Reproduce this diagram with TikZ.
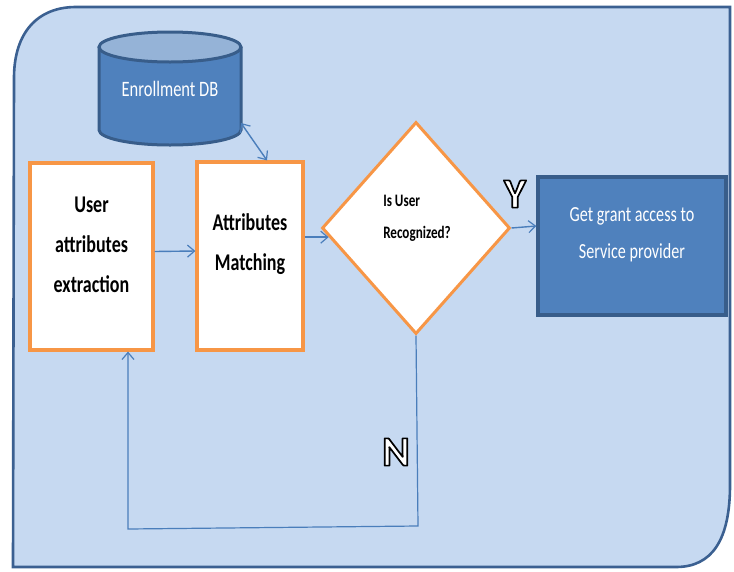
\documentclass[tikz,border=0pt]{standalone}
\usepackage{fontspec}
\setmainfont{Carlito}
\newfontfamily\cnd[FakeStretch=0.75]{Carlito}
\usetikzlibrary{arrows.meta,shapes.geometric}
\definecolor{bgfill}{HTML}{C6D9F1}
\definecolor{bgline}{HTML}{3B6091}
\definecolor{orng}{HTML}{F79646}
\definecolor{dbbody}{HTML}{4F81BD}
\definecolor{dbtop}{HTML}{95B3D7}
\definecolor{dkblue}{HTML}{385D8A}
\definecolor{arr}{HTML}{4A7EBB}
\newcommand\outlinetext[1]{\special{pdf:literal direct q 2 Tr 1.7 w 0 G 1 j}#1\special{pdf:literal direct Q}}
\tikzset{
  obox/.style={draw=orng, line width=3.2pt, fill=white, inner sep=0pt},
  conn/.style={draw=arr, line width=1.4pt, -{Straight Barb[length=7pt,width=12pt,line width=1.2pt]}},
  bigtxt/.style={font={\cnd\bfseries\fontsize{24}{40}\selectfont}, align=center, text=black},
  whtxt/.style={font={\cnd\fontsize{22}{37}\selectfont}, align=center, text=white},
  yn/.style={font={\bfseries\fontsize{42}{42}\selectfont}, inner sep=0pt, text=white},
}
\begin{document}
\begin{tikzpicture}[x=1pt,y=-1pt]
\useasboundingbox (0,0) rectangle (734,571);
% background frame
\draw[fill=bgfill, draw=bgline, line width=2.6pt]
  (14,78) .. controls (14,32) and (38,7) .. (76,7) -- (730,7) -- (730,485)
  .. controls (730,540) and (712,567) .. (676,567) -- (13,567) -- cycle;
% Enrollment DB cylinder
\draw[fill=dbbody, draw=dkblue, line width=3pt]
  (99,47) -- (99,130) arc[start angle=180, end angle=360, x radius=71, y radius=-15] -- (241,47);
\draw[fill=dbtop, draw=dkblue, line width=3pt] (170,47) ellipse[x radius=71, y radius=15];
\node[whtxt] (db) at (170,89) {Enrollment DB};
\coordinate (dbc) at (241,123);
% boxes
\node[obox, minimum width=123pt, minimum height=187pt] (b1) at (91.5,256.5) {};
\node[bigtxt] (b1t) at (91.5,245) {User\\attributes\\extraction};
\node[obox, minimum width=106pt, minimum height=188pt] (b2) at (250,256) {};
\node[bigtxt] (b2t) at (250,244) {Attributes\\Matching};
% diamond
\node[diamond, draw=orng, line width=3pt, fill=white, aspect=0.887,
      minimum width=188pt, minimum height=212pt, inner sep=0pt] (d) at (416,228) {};
\node[font={\cnd\bfseries\fontsize{17.5}{32}\selectfont}, align=left, text=black] (dt) at (417,218) {Is User\\Recognized?};
% grant box
\node[draw=dkblue, line width=3.2pt, fill=dbbody, minimum width=188pt, minimum height=138pt] (b3) at (632,246) {};
\node[whtxt, font={\cnd\fontsize{21.5}{37}\selectfont}] (b3t) at (632,235) {Get grant access to\\Service provider};
% connectors
\draw[conn] ([yshift=5pt]b1.east) -- ([yshift=5pt]b2.west);
\draw[conn] (d.186 -| b2.east) -- (d.186);
\draw[conn] (d.east) -- ([yshift=20pt]b3.west);
\draw[conn, {Straight Barb[length=7pt,width=12pt,line width=1.2pt]}-{Straight Barb[length=7pt,width=12pt,line width=1.2pt]}]
  (dbc) -- ([xshift=17pt]b2.north);
\coordinate (n1) at (418,526);
\coordinate (n2) at (128,529);
\draw[conn, line width=1.2pt] (d.south) -- (n1) -- (n2) -- (n2 |- b1.south);
% Y and N labels
\node[yn] (ylab) at (515,194) {\outlinetext{Y}};
\node[yn] (nlab) at (396,452) {\outlinetext{N}};
\end{tikzpicture}
\end{document}
